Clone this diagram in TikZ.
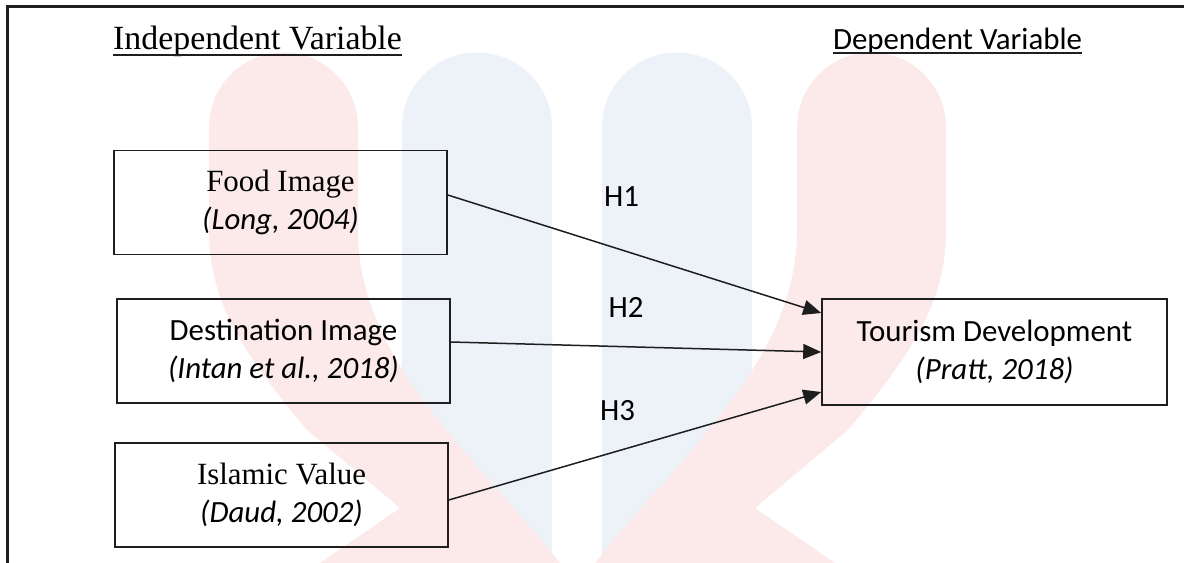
\documentclass[tikz,border=0pt]{standalone}
\usepackage{fontspec}
\setmainfont{Liberation Serif}
\newfontfamily\calib{Carlito}
\usetikzlibrary{arrows.meta}
\definecolor{wmpink}{RGB}{252,234,234}
\definecolor{wmblue}{RGB}{236,242,248}
\definecolor{ink}{RGB}{30,30,30}
\begin{document}
\begin{tikzpicture}[x=1bp,y=-1bp,
  box/.style={draw=ink, line width=1.6bp, minimum width=333bp, minimum height=104bp,
    inner sep=0pt, align=center, font=\fontsize{31}{38}\selectfont},
  conn/.style={draw=ink, line width=1.5bp, -{Triangle[length=18bp,width=15bp]}},
  hlab/.style={font=\calib\fontsize{31}{38}\selectfont, inner sep=0pt, anchor=base},
  head/.style={inner sep=0pt, anchor=base},
  uline/.style={draw=ink, line width=1.8bp},
  frame/.style={draw=ink, line width=3bp}]
\useasboundingbox (0,0) rectangle (1184,563);
% watermark
\fill[wmblue] (402,563) -- (402,127) .. controls (402,86) and (435.6,52.5) .. (477,52.5)
  .. controls (518.4,52.5) and (552,86) .. (552,127) -- (552,563) -- cycle;
\fill[wmblue] (602,563) -- (602,127) .. controls (602,86) and (635.6,52.5) .. (677,52.5)
  .. controls (718.4,52.5) and (752,86) .. (752,127) -- (752,563) -- cycle;
\fill[wmpink] (209,127) .. controls (209,86) and (242.4,52.5) .. (283.5,52.5)
  .. controls (324.6,52.5) and (358,86) .. (358,127) -- (358,230)
  .. controls (358,360) and (470,450) .. (560,563) -- (320,563) -- (400,508) -- (307,430)
  .. controls (240,350) and (209,300) .. (209,230) -- cycle;
\fill[wmpink] (946,127) .. controls (946,86) and (912.6,52.5) .. (871.5,52.5)
  .. controls (830.4,52.5) and (797,86) .. (797,127) -- (797,230)
  .. controls (797,360) and (685,450) .. (595,563) -- (835,563) -- (755,508) -- (848,430)
  .. controls (915,350) and (946,300) .. (946,230) -- cycle;
% frame
\draw[frame] (7,563) -- (7,7) -- (1184,7);
% headers
\node[head, font=\fontsize{34}{40}\selectfont] (iv) at (257.5,50) {Independent Variable};
\draw[uline] ([yshift=-5bp]iv.base west) -- ([yshift=-5bp]iv.base east);
\node[head, font=\calib\fontsize{31}{38}\selectfont] (dv) at (957.5,50) {Dependent Variable};
\draw[uline] ([yshift=-3bp]dv.base west) -- ([yshift=-3bp]dv.base east);
% boxes
\node[box] (food) at (280.5,202.5) {Food Image\\{\calib\itshape (Long, 2004)}};
\node[box] (dest) at (283.5,351) {{\calib Destination Image}\\{\calib\itshape (Intan et al., 2018)}};
\node[box] (isl) at (281.5,495) {Islamic Value\\{\calib\itshape (Daud, 2002)}};
\node[box, minimum width=345bp, minimum height=106bp] (tour) at (994.5,352)
  {{\calib Tourism Development}\\{\calib\itshape (Pratt, 2018)}};
% connectors
\draw[conn] ([yshift=7.5bp]food.east) -- ([yshift=39bp]tour.west);
\draw[conn] ([yshift=9bp]dest.east) -- (tour.west);
\draw[conn] ([yshift=-5bp]isl.east) -- ([yshift=-40bp]tour.west);
% labels
\node[hlab] (h1) at (621.5,207) {H1};
\node[hlab] (h2) at (626,318) {H2};
\node[hlab] (h3) at (617.5,420) {H3};
\end{tikzpicture}
\end{document}
